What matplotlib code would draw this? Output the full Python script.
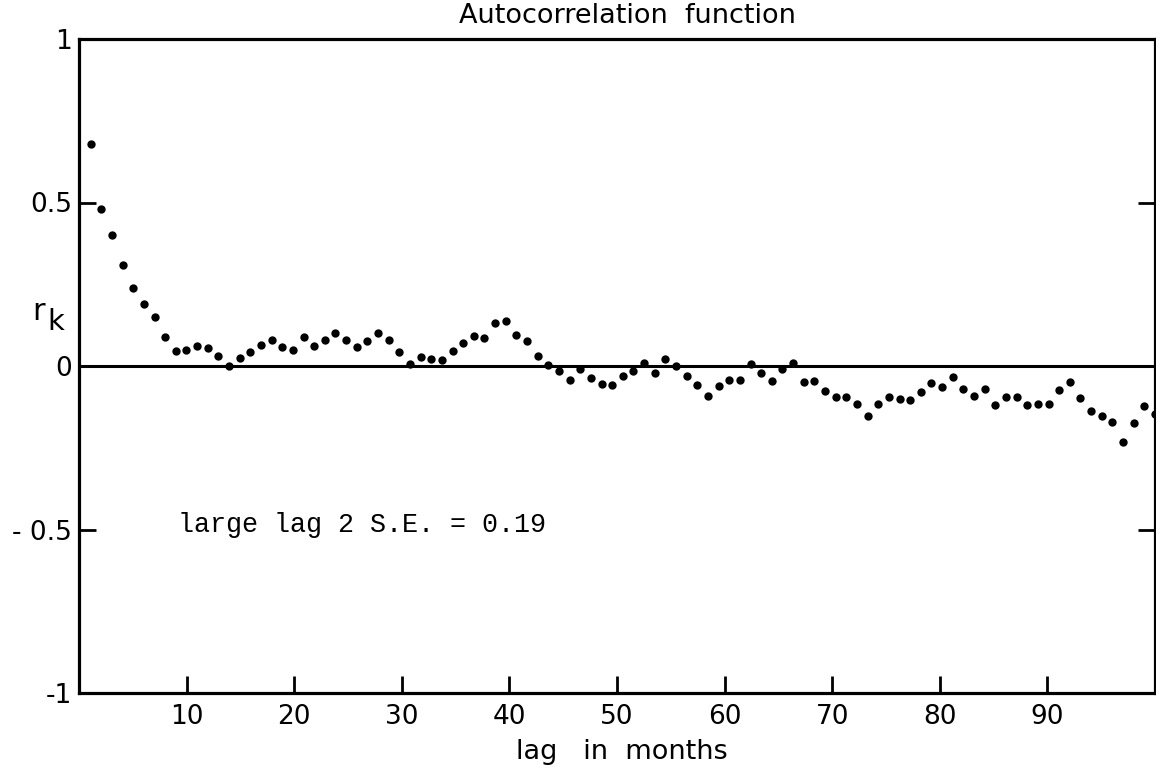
import matplotlib
matplotlib.use("Agg")
import matplotlib.pyplot as plt
import numpy as np

# ---- data ----
lags = list(range(1, 102))
acf = [0.68, 0.48, 0.40, 0.31, 0.24, 0.19, 0.15, 0.09, 0.045, 0.05,
       0.06, 0.055, 0.03, 0.0, 0.023, 0.042, 0.063, 0.079, 0.057, 0.05,
       0.089, 0.062, 0.079, 0.100, 0.080, 0.059, 0.075, 0.102, 0.078, 0.042,
       0.006, 0.026, 0.022, 0.018, 0.045, 0.070, 0.091, 0.086, 0.132, 0.137,
       0.094, 0.075, 0.031, 0.003, -0.016, -0.042, -0.008, -0.036, -0.056, -0.059,
       -0.032, -0.014, 0.009, -0.022, 0.022, 0.001, -0.031, -0.059, -0.091, -0.062,
       -0.042, -0.044, 0.005, -0.020, -0.045, -0.008, 0.010, -0.050, -0.047, -0.075,
       -0.094, -0.094, -0.117, -0.152, -0.115, -0.095, -0.100, -0.104, -0.080, -0.052,
       -0.065, -0.035, -0.069, -0.093, -0.069, -0.118, -0.096, -0.094, -0.118, -0.117,
       -0.115, -0.073, -0.049, -0.097, -0.138, -0.153, -0.171, -0.232, -0.174, -0.121,
       -0.146]
x_ticks = [10, 20, 30, 40, 50, 60, 70, 80, 90]
x_ticklabels = ["10", "20", "30", "40", "50", "60", "70", "80", "90"]
y_ticks = [-1, -0.5, 0, 0.5, 1]
y_ticklabels = ["-1", "- 0.5", "0", "0.5", "1"]
title = "Autocorrelation  function"
xlabel = "lag   in  months"
note = "large lag 2 S.E. = 0.19"

W, H = 1156, 772
fig = plt.figure(figsize=(W / 100, H / 100), dpi=100)
left, right, top, bottom = 79, 1155, 39, 693
ax = fig.add_axes([left / W, 1 - bottom / H, (right - left) / W, (bottom - top) / H])

ax.set_xlim(0, 100)
ax.set_ylim(-1, 1)
for s in ax.spines.values():
    s.set_linewidth(2.3)
ax.axhline(0, color="black", lw=2.2, zorder=2)

fs = 19
ax.set_xticks(x_ticks)
ax.set_xticklabels(x_ticklabels, fontsize=fs, family="DejaVu Sans")
ax.set_yticks(y_ticks)
ax.set_yticklabels(y_ticklabels, fontsize=fs, family="DejaVu Sans")
ax.tick_params(axis="x", direction="in", length=12, width=2.0, top=True, pad=8)
ax.tick_params(axis="y", direction="in", length=12, width=2.0, right=True, pad=5)

# dots drawn on their own (hidden) lag scale
ax2 = ax.twiny()
ax2.set_xlim(-0.1, 101.0)
ax2.set_xticks([])
for s in ax2.spines.values():
    s.set_visible(False)
ax2.plot(lags, acf, linestyle="none", marker="o", markersize=6,
         color="black", markeredgewidth=0)

ax.text(9.2, -0.487, note, fontsize=19.3, family="Liberation Mono",
        va="center", ha="left")

fig.text(627 / W, 1 - 16 / H, title, fontsize=19.5, ha="center", va="center",
         family="DejaVu Sans")
fig.text(622 / W, 1 - 752 / H, xlabel, fontsize=19.5, ha="center", va="center",
         family="DejaVu Sans")
fig.text(39 / W, 1 - 311 / H, "r", fontsize=22, ha="center", va="center",
         family="DejaVu Sans")
fig.text(56 / W, 1 - 322 / H, "k", fontsize=21, ha="center", va="center",
         family="DejaVu Sans")

fig.savefig("out.png", dpi=100, facecolor="white")
